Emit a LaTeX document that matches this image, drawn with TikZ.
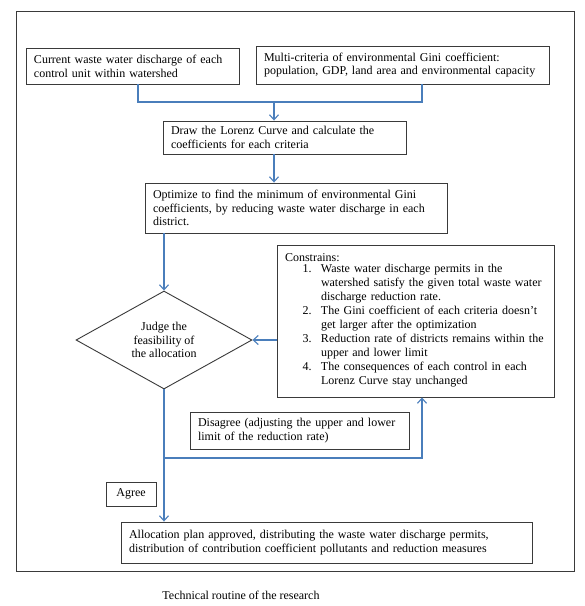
\documentclass[tikz,border=0pt]{standalone}
\usepackage{fontspec}
\setmainfont{Liberation Serif}
\usetikzlibrary{arrows.meta,shapes.geometric}
\definecolor{linkblue}{HTML}{4A7EBB}
\definecolor{boxline}{HTML}{3A3A3A}
\newcommand{\fs}{\fontsize{12}{13.8}\selectfont}
\tikzset{
  box/.style={draw=boxline, line width=0.9pt, inner xsep=8pt, inner ysep=0pt, align=left, font=\fs},
  conn/.style={draw=linkblue, line width=1.1pt},
  arr/.style={conn, -{Straight Barb[length=5pt,width=9pt]}},
}
\begin{document}
\begin{tikzpicture}[x=1pt,y=-1pt]
\useasboundingbox (0,0) rectangle (585,606);
\fill[white] (0,0) rectangle (585,606);
\draw[boxline, line width=0.9pt] (16,11) rectangle (574,571);

\node[box, text width=197pt, minimum height=36pt] (b1) at (132.5,66)
  {Current waste water discharge of each\\control unit within watershed};
\node[box, text width=277pt, minimum height=38pt] (b2) at (402.5,65)
  {Multi-criteria of environmental Gini coefficient:\\population, GDP, land area and environmental capacity};
\node[box, text width=227pt, minimum height=33pt] (b3) at (284.5,137.5)
  {Draw the Lorenz Curve and calculate the\\coefficients for each criteria};
\node[box, text width=286pt, minimum height=50pt] (b4) at (296,208)
  {Optimize to find the minimum of environmental Gini\\coefficients, by reducing waste water discharge in each\\district.};
\node[box, text width=261pt, minimum height=152pt] (cons) at (415.5,321)
  {Constrains:\\
   \renewcommand{\arraystretch}{1.02}%
   \begin{tabular}{@{\hspace{17.6pt}}r@{\hspace{9.4pt}}l@{}}
   1. & Waste water discharge permits in the\\
      & watershed satisfy the given total waste water\\
      & discharge reduction rate.\\
   2. & The Gini coefficient of each criteria doesn’t\\
      & get larger after the optimization\\
   3. & Reduction rate of districts remains within the\\
      & upper and lower limit\\
   4. & The consequences of each control in each\\
      & Lorenz Curve stay unchanged
   \end{tabular}};
\node[draw=boxline, line width=0.9pt, diamond, aspect=1.8, inner sep=0pt,
      minimum width=176pt, minimum height=98pt, align=center, font=\fs] (d) at (164,340)
  {Judge the\\feasibility of\\the allocation};
\node[box, text width=203pt, minimum height=37pt] (dis) at (299.5,430.5)
  {Disagree (adjusting the upper and lower\\limit of the reduction rate)};
\node[box, align=center, text width=34pt, minimum height=24pt] (agr) at (131,494) {Agree};
\node[box, text width=395pt, minimum height=41pt] (fin) at (326.5,542.5)
  {Allocation plan approved, distributing the waste water discharge permits,\\distribution of contribution coefficient pollutants and reduction measures};
\node[font=\fontsize{12}{14}\selectfont] (cap) at (241,595) {Technical routine of the research};

\coordinate (j1) at (138,102);
\coordinate (j2) at (422,102);
\coordinate (jm) at (274,102);
\coordinate (k1) at (164,458);
\coordinate (k2) at (422,458);

\draw[conn] (b1.south -| j1) -- (j1) -- (j2) -- (b2.south -| j2);
\draw[arr] (jm) -- (b3.north -| jm);
\draw[arr] (b3.south -| jm) -- (b4.north -| jm);
\draw[arr] (b4.south -| d.north) -- (d.north);
\draw[arr] (cons.west |- d.east) -- (d.east);
\draw[arr] (d.south) -- (fin.north -| d.south);
\draw[arr] (d.south |- k1) -- (k2) -- (cons.south -| k2);
\end{tikzpicture}
\end{document}
